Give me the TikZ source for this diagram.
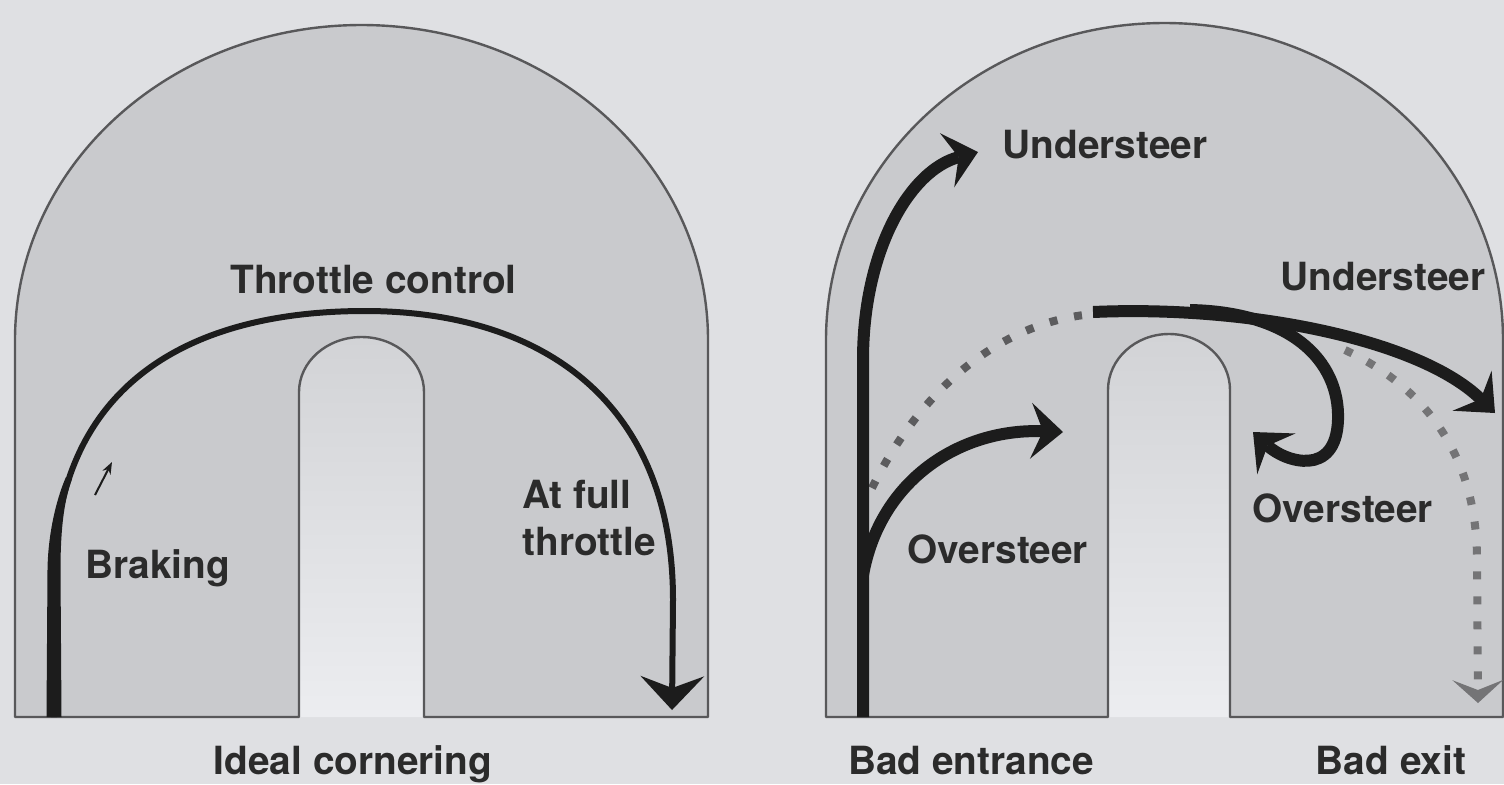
\documentclass[tikz,border=0pt]{standalone}
\usepackage{fontspec}
\setsansfont{TeX Gyre Heros}
\usetikzlibrary{arrows.meta}
\definecolor{paper}{RGB}{223,224,227}
\definecolor{tarmac}{RGB}{201,202,205}
\definecolor{kerb}{RGB}{88,88,90}
\definecolor{ink}{RGB}{28,28,28}
\definecolor{dotgray}{RGB}{92,92,94}
\definecolor{labelgray}{RGB}{43,43,43}
\definecolor{islandtop}{RGB}{210,211,214}
\definecolor{islandbot}{RGB}{236,237,240}
\tikzset{
  corner/.style={x=0.5pt,y=-0.5pt},
  track/.style={fill=tarmac,draw=kerb,line width=1.2pt,line join=round},
  island/.style={top color=islandtop,bottom color=islandbot},
  ideal/.style={draw=ink,line width=3pt,-{Stealth[length=17pt,width=32pt,inset=6pt,line width=0pt]}},
  badline/.style={draw=ink,line width=6pt,-{Stealth[length=16pt,width=28pt,inset=6pt,line width=0pt]}},
  dots/.style={draw=dotgray,line width=4pt,dash pattern=on 4pt off 8.5pt},
  lbl/.style={font=\sffamily\bfseries\fontsize{19.4}{23.5}\selectfont,text=labelgray,inner sep=0pt},
}

\begin{document}
\begin{tikzpicture}[corner]
    \def\yb{717}
    \useasboundingbox (0,0) rectangle (1504,784);
    \fill[paper] (0,0) rectangle (1504,784);
    % ideal cornering circuit
    \shade[island] (299,\yb) -- (299,392) arc[start angle=180,end angle=360,x radius=62.5,y radius=55] -- (424,\yb) -- cycle;
    \draw[track] (15,\yb) -- (15,340) arc[start angle=180,end angle=360,x radius=346.5,y radius=315]
        -- (708,\yb) -- (424,\yb) -- (424,392) arc[start angle=0,end angle=-180,x radius=62.5,y radius=55]
        -- (299,\yb) -- cycle;
    % bad entrance / bad exit circuit
    \shade[island] (1108,\yb) -- (1108,390) arc[start angle=180,end angle=360,x radius=61,y radius=56] -- (1230,\yb) -- cycle;
    \draw[track] (826,\yb) -- (826,340) arc[start angle=180,end angle=360,x radius=338.5,y radius=317]
        -- (1503,\yb) -- (1230,\yb) -- (1230,390) arc[start angle=0,end angle=-180,x radius=61,y radius=56]
        -- (1108,\yb) -- cycle;

    % racing line
    \fill[ink] (46.5,\yb) -- (47.5,570) .. controls (48,530) and (58,495) .. (66,477)
        -- (72,479) .. controls (64,500) and (60.5,530) .. (60.5,570) -- (61.5,\yb) -- cycle;  % braking
    \draw[ideal] (54,\yb) -- (54,570) .. controls (58,400) and (170,312) .. (362,311)
        .. controls (540,310) and (673,400) .. (673,600) -- (672,710);
    \draw[ink,line width=1pt,-{Stealth[length=6pt,width=4.5pt]}] (95,495) -- (112,462);

    % bad lines
    \draw[dots] (872,488) .. controls (920,390) and (1000,322) .. (1093,314);
    \draw[dots,draw=dotgray!85,-{Stealth[length=11.5pt,width=25.5pt,inset=5pt,line width=0pt]}]
        (1345,350) .. controls (1420,385) and (1477,450) .. (1477,560) -- (1478,703);
    \draw[badline] (863,\yb) -- (863,360) .. controls (863,250) and (910,170) .. (978,152);
    \draw[badline] (863,575) .. controls (880,480) and (960,428) .. (1063,432);
    \draw[badline] (1093,312) .. controls (1250,305) and (1420,340) .. (1495,413);
    \draw[badline] (1190,310) .. controls (1290,312) and (1340,360) .. (1338,420)
        .. controls (1336,478) and (1285,462) .. (1253,432);

    \node[lbl,anchor=base west] (throttle) at (230,293) {Throttle control};
    \node[lbl,anchor=base west] (braking) at (85,578) {Braking};
    \node[lbl,anchor=north west,align=left] (fullthr) at (522,480) {At full\\throttle};
    \node[lbl,anchor=base west] (undertop) at (1002,158) {Understeer};
    \node[lbl,anchor=base west] (overleft) at (907,563) {Oversteer};
    \node[lbl,anchor=base west] (underright) at (1280,290) {Understeer};
    \node[lbl,anchor=base west] (overright) at (1252,522) {Oversteer};
    \node[lbl,anchor=base] (idealcap) at (353,774) {Ideal cornering};
    \node[lbl,anchor=base] (entrycap) at (971,774) {Bad entrance};
    \node[lbl,anchor=base] (exitcap) at (1391,774) {Bad exit};
\end{tikzpicture}
\end{document}
